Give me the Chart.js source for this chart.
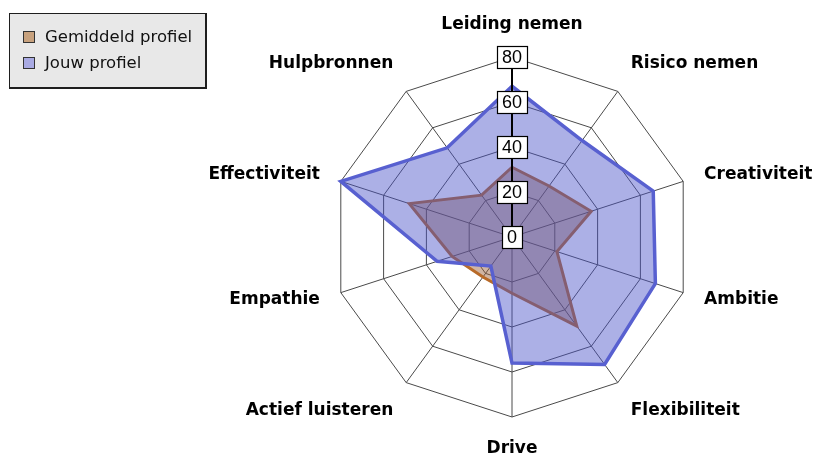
<!DOCTYPE html>
<html>
<head>
<meta charset="utf-8">
<script src="https://cdn.jsdelivr.net/npm/chart.js@4"></script>
<style>
  html, body { margin: 0; padding: 0; background: #fff; }
  #wrap { position: relative; width: 814px; height: 457px; }
</style>
</head>
<body>
<div id="wrap"><canvas id="radar"></canvas></div>
<script>
// categorieën (met de klok mee, vanaf boven)
const categories = ['Leiding nemen', 'Risico nemen', 'Creativiteit', 'Ambitie', 'Flexibiliteit',
                    'Drive', 'Actief luisteren', 'Empathie', 'Effectiviteit', 'Hulpbronnen'];
const gemiddeld = [31, 28, 37, 21, 49, 25, 22, 28, 48, 23];
const jouw = [67, 53, 66, 67, 70, 56, 16, 35, 80, 49];
const tickValues = [0, 20, 40, 60, 80];
const seriesNames = ['Gemiddeld profiel', 'Jouw profiel'];

const swatchColors = ['#c8a27e', '#a9aae3'];
const labelFont = 'bold 17px "DejaVu Sans", sans-serif';
const tickFont = '18px "Liberation Sans", Arial, sans-serif';
const legendFont = '16.5px "DejaVu Sans", sans-serif';

// eigen puntlabels, zodat de labels links/rechts verticaal gecentreerd staan
const pointLabelPlugin = {
    id: 'pointLabels',
    afterDraw(chart) {
        const scale = chart.scales.r;
        const ctx = chart.ctx;
        ctx.save();
        ctx.font = labelFont;
        ctx.fillStyle = '#000';
        ctx.textBaseline = 'middle';
        categories.forEach((label, i) => {
            const p = scale.getPointPosition(i, scale.drawingArea + 22);
            const a = scale.getIndexAngle(i);
            const deg = Math.round(a * 180 / Math.PI) % 360;
            let y = p.y;
            if (Math.cos(a) > 0.5) y -= 10;
            else if (Math.cos(a) < -0.5) y += 10;
            if (deg === 0 || deg === 180) ctx.textAlign = 'center';
            else if (deg < 180) ctx.textAlign = 'left';
            else ctx.textAlign = 'right';
            ctx.fillText(label, p.x, y);
        });
        ctx.restore();
    }
};

// zwarte as naar boven met omkaderde schaalwaarden
const tickBoxPlugin = {
    id: 'tickBoxes',
    afterDatasetsDraw(chart) {
        const scale = chart.scales.r;
        const ctx = chart.ctx;
        const c = scale.getPointPositionForValue(0, 0);
        const t = scale.getPointPositionForValue(0, tickValues[tickValues.length - 1]);
        ctx.save();
        ctx.strokeStyle = '#000';
        ctx.lineWidth = 2;
        ctx.beginPath();
        ctx.moveTo(c.x, c.y);
        ctx.lineTo(t.x, t.y);
        ctx.stroke();

        ctx.font = tickFont;
        ctx.textAlign = 'center';
        ctx.textBaseline = 'middle';
        tickValues.forEach(v => {
            const p = scale.getPointPositionForValue(0, v);
            const txt = String(v);
            const w = Math.round(ctx.measureText(txt).width) + 10;
            const h = 22;
            const x0 = Math.round(p.x - w / 2) + 0.5;
            const y0 = Math.round(p.y - h / 2) + 0.5;
            ctx.fillStyle = '#fff';
            ctx.fillRect(x0, y0, w, h);
            ctx.strokeStyle = '#000';
            ctx.lineWidth = 1.2;
            ctx.strokeRect(x0, y0, w, h);
            ctx.fillStyle = '#000';
            ctx.fillText(txt, p.x, p.y + 1);
        });
        ctx.restore();
    }
};

// legenda linksboven in een grijs kader met schaduw
const legendBoxPlugin = {
    id: 'legendBox',
    afterDraw(chart) {
        const ctx = chart.ctx;
        ctx.save();
        ctx.fillStyle = '#1e1e1e';
        ctx.fillRect(9, 13, 198, 76);
        ctx.fillStyle = '#e8e8e8';
        ctx.fillRect(10, 14, 195, 73);
        ctx.font = legendFont;
        ctx.textBaseline = 'middle';
        ctx.textAlign = 'left';
        seriesNames.forEach((name, i) => {
            const y = 31 + i * 26;
            ctx.fillStyle = swatchColors[i];
            ctx.fillRect(23, y, 12, 12);
            ctx.strokeStyle = '#333';
            ctx.lineWidth = 1;
            ctx.strokeRect(23.5, y + 0.5, 11, 11);
            ctx.fillStyle = '#111';
            ctx.fillText(name, 45, y + 7);
        });
        ctx.restore();
    }
};

const ctx = document.getElementById('radar').getContext('2d');
new Chart(ctx, {
    type: 'radar',
    data: {
        labels: categories,
        datasets: [{
            label: seriesNames[0],
            data: gemiddeld,
            order: 2,
            borderColor: '#b86a28',
            backgroundColor: 'rgba(150, 90, 50, 0.45)',
            borderWidth: 3,
            pointRadius: 0,
            tension: 0,
            fill: true
        }, {
            label: seriesNames[1],
            data: jouw,
            order: 1,
            borderColor: 'rgb(88, 96, 208)',
            backgroundColor: 'rgba(70, 80, 200, 0.45)',
            borderWidth: 3.5,
            pointRadius: 0,
            tension: 0,
            fill: true
        }]
    },
    options: {
        responsive: true,
        maintainAspectRatio: false,
        animation: false,
        layout: { padding: { left: 332, right: 122, top: 57, bottom: 40 } },
        plugins: {
            legend: { display: false },
            tooltip: { enabled: false }
        },
        scales: {
            r: {
                min: 0,
                max: 80,
                ticks: { stepSize: 20, display: false },
                grid: { color: '#4a4a4a', lineWidth: 1 },
                angleLines: { color: '#4a4a4a', lineWidth: 1 },
                pointLabels: { display: false }
            }
        }
    },
    plugins: [tickBoxPlugin, pointLabelPlugin, legendBoxPlugin]
});
</script>
</body>
</html>
